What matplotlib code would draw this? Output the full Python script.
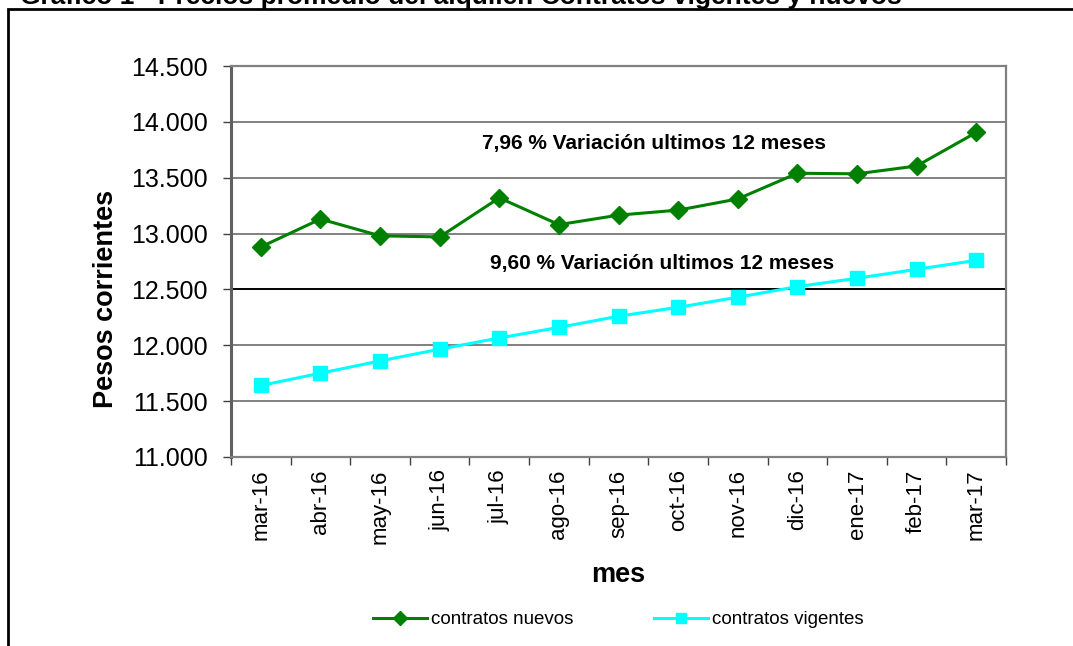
import matplotlib.pyplot as plt
from matplotlib.patches import Rectangle

plt.rcParams['font.family'] = ['Liberation Sans', 'DejaVu Sans']

meses = ['mar-16', 'abr-16', 'may-16', 'jun-16', 'jul-16', 'ago-16', 'sep-16',
         'oct-16', 'nov-16', 'dic-16', 'ene-17', 'feb-17', 'mar-17']
nuevos = [12880, 13130, 12980, 12970, 13320, 13080, 13165,
          13210, 13310, 13540, 13535, 13605, 13905]
vigentes = [11640, 11750, 11860, 11965, 12065, 12160, 12260,
            12340, 12430, 12525, 12600, 12680, 12760]
yticks = [11000, 11500, 12000, 12500, 13000, 13500, 14000, 14500]

fig = plt.figure(figsize=(10.73, 6.46), dpi=100)
ax = fig.add_axes([0.2153, 0.2926, 0.7223, 0.6052])

x = list(range(len(meses)))
ax.plot(x, nuevos, color='#008000', lw=2.2, marker='D', ms=9.5, label='contratos nuevos')
ax.plot(x, vigentes, color='#00FFFF', lw=2.2, marker='s', ms=10.5, label='contratos vigentes')

ax.set_xlim(-0.5, len(meses) - 0.5)
ax.set_ylim(11000, 14500)
ax.set_yticks(yticks)
ax.set_yticklabels([f'{v:,}'.replace(',', '.') for v in yticks], fontsize=18)
for v in yticks[1:]:
    ax.axhline(v, color='#000000' if v == 12500 else '#808080', lw=1.4, zorder=0)

ax.set_xticks(x)
ax.set_xticklabels(meses, rotation=90, fontsize=16)
ax.tick_params(axis='x', length=0, pad=9)
ax.set_xticks([i - 0.5 for i in range(len(meses) + 1)], minor=True)
ax.tick_params(axis='x', which='minor', length=6, width=1, color='#404040', direction='out')
ax.tick_params(axis='y', length=6, width=1, color='#404040', direction='out', pad=11)

for s in ['top', 'right', 'bottom']:
    ax.spines[s].set_color('#808080')
    ax.spines[s].set_linewidth(1.6)
ax.spines['left'].set_color('#606060')
ax.spines['left'].set_linewidth(2.2)

ax.set_ylabel('Pesos corrientes', fontsize=19.5, fontweight='bold')
ax.yaxis.set_label_coords(-0.145, 0.405)
ax.set_xlabel('mes', fontsize=19.5, fontweight='bold', labelpad=13)

ax.text(6.6, 13810, '7,96 % Variación ultimos 12 meses', fontsize=15,
        fontweight='bold', ha='center', va='center')
ax.text(6.73, 12730, '9,60 % Variación ultimos 12 meses', fontsize=15,
        fontweight='bold', ha='center', va='center')

fig.legend(loc='center', bbox_to_anchor=(0.576, 0.041), ncol=2, frameon=False,
           fontsize=13.5, handlelength=2.9, handletextpad=0.2, columnspacing=4.3,
           markerscale=0.7)

fig.patches.append(Rectangle((0.0075, -0.2), 1.2, 1.186, transform=fig.transFigure,
                             fill=False, ec='black', lw=2))
fig.text(0.019, 1 - 4 / 646, 'Gráfico 1 - Precios promedio del alquiler. Contratos vigentes y nuevos',
         fontsize=19, fontweight='bold', ha='left', va='baseline')

fig.savefig('out.png', dpi=100)
